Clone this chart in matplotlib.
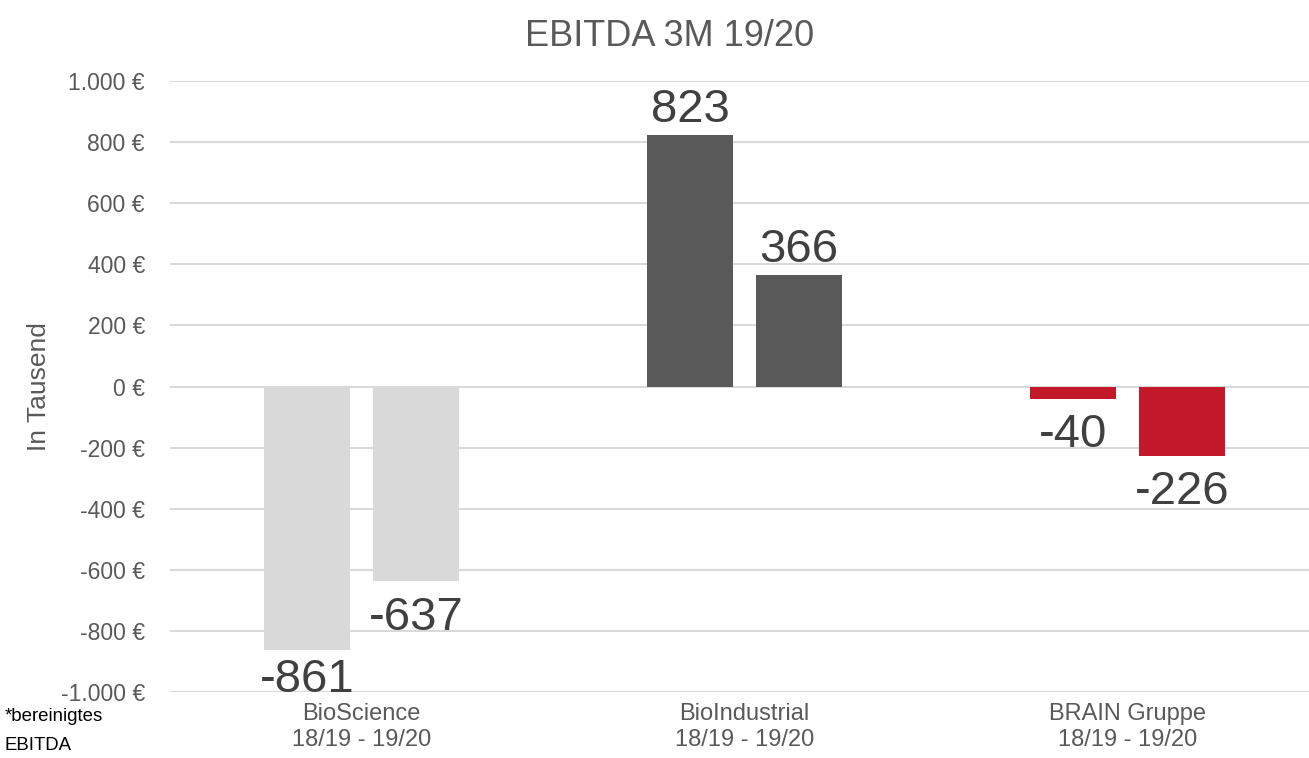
import matplotlib
matplotlib.use("Agg")
import matplotlib.pyplot as plt
from matplotlib.ticker import FuncFormatter
import numpy as np

plt.rcParams['font.family'] = ['Liberation Sans', 'DejaVu Sans']

categories = ["BioScience\n18/19 - 19/20", "BioIndustrial\n18/19 - 19/20", "BRAIN Gruppe\n18/19 - 19/20"]
ebitda_1819 = [-861, 823, -40]
ebitda_1920 = [-637, 366, -226]
bar_colors = ["#D9D9D9", "#595959", "#C3172A"]
y_ticks = list(range(-1000, 1001, 200))


def euro_fmt(v, pos):
    s = f"{int(v):,}".replace(",", ".")
    return f"{s} €"


fig = plt.figure(figsize=(13.09, 7.58), dpi=100)
ax = fig.add_axes([170 / 1309, 1 - 692 / 758, 1149 / 1309, 611 / 758])

x = np.arange(len(categories))
width = 0.2245
offset = 0.1423

bars1 = ax.bar(x - offset, ebitda_1819, width, color=bar_colors, zorder=3)
bars2 = ax.bar(x + offset, ebitda_1920, width, color=bar_colors, zorder=3)

ymin, ymax = -1000, 1000
for bars in (bars1, bars2):
    for b in bars:
        v = b.get_height()
        cx = b.get_x() + b.get_width() / 2
        if v >= 0:
            ax.annotate(f"{v:.0f}", (cx, v), xytext=(0, 2), textcoords="offset points",
                        ha="center", va="bottom", fontsize=34, color="#404040")
        elif v < ymin + 157:
            # label would leave the plot area: keep it sitting on the bottom edge
            ax.annotate(f"{v:.0f}", (cx, ymin), ha="center", va="baseline",
                        fontsize=34, color="#404040")
        else:
            ax.annotate(f"{v:.0f}", (cx, v), xytext=(0, -10.5), textcoords="offset points",
                        ha="center", va="top", fontsize=34, color="#404040")

ax.set_xlim(-0.5, 2.5)
ax.set_ylim(ymin, ymax)
ax.set_yticks(y_ticks)
ax.yaxis.set_major_formatter(FuncFormatter(euro_fmt))
ax.set_xticks(x)
ax.set_xticklabels(categories, fontsize=17, color="#595959", linespacing=1.2)
ax.tick_params(axis="y", labelsize=16.5, labelcolor="#595959", length=0, pad=18)
ax.tick_params(axis="x", length=0, pad=8)
ax.grid(axis="y", color="#D9D9D9", linewidth=1.5, zorder=0)
for s in ax.spines.values():
    s.set_visible(False)

ax.set_ylabel("In Tausend", fontsize=19, color="#595959", labelpad=7)
fig.text(670 / 1309, 1 - 36 / 758, "EBITDA 3M 19/20",
         ha="center", va="center", fontsize=26, color="#595959")
fig.text(5 / 1309, 1 - 731 / 758, "*bereinigtes\nEBITDA", ha="left", va="center",
         fontsize=13.4, color="#000000", linespacing=1.9)

fig.savefig("out.png", dpi=100)
